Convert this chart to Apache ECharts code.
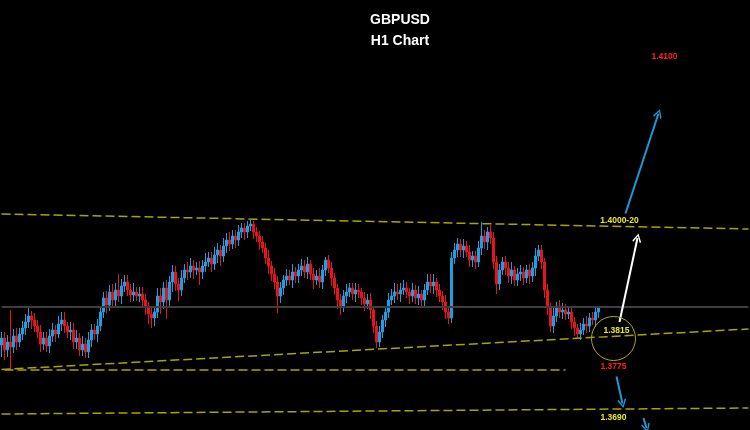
<!DOCTYPE html>
<html>
<head>
<meta charset="utf-8">
<script src="https://cdn.jsdelivr.net/npm/echarts@6/dist/echarts.min.js"></script>
<style>
  html, body { margin: 0; padding: 0; background: #000; }
  #chart { width: 750px; height: 430px; }
</style>
</head>
<body>
<div id="chart"></div>
<script>
// ---- H1 candles (GBPUSD) ----
const opens = [
  1.3770,1.3784,1.3760,1.3776,1.3766,1.3788,1.3776,1.3792,1.3804,1.3816,1.3828,1.3820,1.3808,1.3796,1.3772,1.3784,1.3768,1.3788,1.3800,1.3792,
  1.3812,1.3820,1.3808,1.3796,1.3800,1.3776,1.3784,1.3760,1.3772,1.3756,1.3780,1.3800,1.3792,1.3808,1.3836,1.3864,1.3850,1.3876,1.3860,1.3880,
  1.3868,1.3888,1.3896,1.3880,1.3870,1.3876,1.3868,1.3872,1.3860,1.3848,1.3832,1.3824,1.3836,1.3868,1.3856,1.3884,1.3860,1.3896,1.3916,1.3892,
  1.3880,1.3904,1.3920,1.3916,1.3928,1.3920,1.3924,1.3916,1.3928,1.3936,1.3944,1.3932,1.3950,1.3960,1.3948,1.3968,1.3980,1.3972,1.3988,1.3980,
  1.3996,1.4004,1.3996,1.4008,1.4012,1.3996,1.3988,1.3976,1.3964,1.3944,1.3928,1.3912,1.3896,1.3868,1.3884,1.3900,1.3908,1.3900,1.3916,1.3908,
  1.3920,1.3928,1.3916,1.3932,1.3912,1.3900,1.3908,1.3896,1.3920,1.3940,1.3924,1.3904,1.3884,1.3860,1.3848,1.3868,1.3876,1.3884,1.3872,1.3880,
  1.3876,1.3864,1.3852,1.3860,1.3840,1.3808,1.3776,1.3796,1.3820,1.3836,1.3860,1.3868,1.3876,1.3872,1.3880,1.3884,1.3876,1.3868,1.3880,1.3864,
  1.3872,1.3860,1.3880,1.3896,1.3888,1.3896,1.3880,1.3868,1.3856,1.3836,1.3824,1.3944,1.3960,1.3972,1.3960,1.3968,1.3956,1.3940,1.3948,1.3936,
  1.3964,1.3988,1.3976,1.3996,1.3984,1.3936,1.3892,1.3920,1.3936,1.3924,1.3908,1.3920,1.3900,1.3912,1.3916,1.3904,1.3920,1.3908,1.3924,1.3948,
  1.3960,1.3936,1.3880,1.3844,1.3808,1.3828,1.3848,1.3836,1.3840,1.3832,1.3836,1.3816,1.3804,1.3792,1.3800,1.3812,1.3808,1.3824,1.3820,1.3836
];
const closes = [
  1.3784,1.3760,1.3776,1.3766,1.3788,1.3776,1.3792,1.3804,1.3816,1.3828,1.3820,1.3808,1.3796,1.3772,1.3784,1.3768,1.3788,1.3800,1.3792,1.3812,
  1.3820,1.3808,1.3796,1.3800,1.3776,1.3784,1.3760,1.3772,1.3756,1.3780,1.3800,1.3792,1.3808,1.3836,1.3864,1.3850,1.3876,1.3860,1.3880,1.3868,
  1.3888,1.3896,1.3880,1.3870,1.3876,1.3868,1.3872,1.3860,1.3848,1.3832,1.3824,1.3836,1.3868,1.3856,1.3884,1.3860,1.3896,1.3916,1.3892,1.3880,
  1.3904,1.3920,1.3916,1.3928,1.3920,1.3924,1.3916,1.3928,1.3936,1.3944,1.3932,1.3950,1.3960,1.3948,1.3968,1.3980,1.3972,1.3988,1.3980,1.3996,
  1.4004,1.3996,1.4008,1.4012,1.3996,1.3988,1.3976,1.3964,1.3944,1.3928,1.3912,1.3896,1.3868,1.3884,1.3900,1.3908,1.3900,1.3916,1.3908,1.3920,
  1.3928,1.3916,1.3932,1.3912,1.3900,1.3908,1.3896,1.3920,1.3940,1.3924,1.3904,1.3884,1.3860,1.3848,1.3868,1.3876,1.3884,1.3872,1.3880,1.3876,
  1.3864,1.3852,1.3860,1.3840,1.3808,1.3776,1.3796,1.3820,1.3836,1.3860,1.3868,1.3876,1.3872,1.3880,1.3884,1.3876,1.3868,1.3880,1.3864,1.3872,
  1.3860,1.3880,1.3896,1.3888,1.3896,1.3880,1.3868,1.3856,1.3836,1.3824,1.3944,1.3960,1.3972,1.3960,1.3968,1.3956,1.3940,1.3948,1.3936,1.3964,
  1.3988,1.3976,1.3996,1.3984,1.3936,1.3892,1.3920,1.3936,1.3924,1.3908,1.3920,1.3900,1.3912,1.3916,1.3904,1.3920,1.3908,1.3924,1.3948,1.3960,
  1.3936,1.3880,1.3844,1.3808,1.3828,1.3848,1.3836,1.3840,1.3832,1.3836,1.3816,1.3804,1.3792,1.3800,1.3812,1.3808,1.3824,1.3820,1.3836,1.3844
];
const lows = [
  1.3746,1.3740,1.3746,1.3720,1.3754,1.3760,1.3766,1.3780,1.3790,1.3804,1.3802,1.3796,1.3784,1.3756,1.3760,1.3756,1.3754,1.3776,1.3776,1.3784,
  1.3798,1.3794,1.3784,1.3780,1.3762,1.3762,1.3748,1.3748,1.3744,1.3744,1.3766,1.3780,1.3776,1.3798,1.3824,1.3834,1.3838,1.3848,1.3846,1.3856,
  1.3852,1.3876,1.3868,1.3856,1.3858,1.3858,1.3856,1.3848,1.3830,1.3812,1.3804,1.3808,1.3824,1.3832,1.3842,1.3822,1.3844,1.3876,1.3878,1.3858,
  1.3868,1.3894,1.3900,1.3904,1.3902,1.3910,1.3890,1.3902,1.3916,1.3926,1.3916,1.3920,1.3934,1.3928,1.3936,1.3954,1.3958,1.3962,1.3964,1.3968,
  1.3984,1.3980,1.3984,1.3998,1.3982,1.3976,1.3960,1.3954,1.3932,1.3912,1.3898,1.3882,1.3834,1.3854,1.3870,1.3888,1.3890,1.3884,1.3894,1.3894,
  1.3908,1.3904,1.3902,1.3900,1.3882,1.3890,1.3884,1.3882,1.3908,1.3914,1.3888,1.3870,1.3842,1.3830,1.3836,1.3854,1.3866,1.3860,1.3856,1.3864,
  1.3850,1.3838,1.3842,1.3822,1.3794,1.3764,1.3766,1.3784,1.3806,1.3824,1.3850,1.3854,1.3860,1.3856,1.3870,1.3864,1.3852,1.3856,1.3852,1.3850,
  1.3846,1.3844,1.3870,1.3874,1.3872,1.3866,1.3856,1.3840,1.3822,1.3812,1.3814,1.3932,1.3946,1.3946,1.3944,1.3946,1.3926,1.3926,1.3922,1.3926,
  1.3950,1.3962,1.3960,1.3972,1.3922,1.3872,1.3880,1.3910,1.3910,1.3894,1.3892,1.3888,1.3888,1.3898,1.3890,1.3894,1.3892,1.3896,1.3908,1.3938,
  1.3922,1.3864,1.3830,1.3796,1.3794,1.3816,1.3824,1.3822,1.3820,1.3822,1.3802,1.3788,1.3784,1.3780,1.3790,1.3794,1.3796,1.3810,1.3806,1.3824
];
const highs = [
  1.3796,1.3796,1.3790,1.3840,1.3802,1.3804,1.3804,1.3818,1.3832,1.3844,1.3838,1.3834,1.3820,1.3810,1.3796,1.3796,1.3802,1.3814,1.3810,1.3828,
  1.3836,1.3836,1.3816,1.3816,1.3814,1.3800,1.3794,1.3788,1.3784,1.3796,1.3812,1.3812,1.3822,1.3848,1.3876,1.3878,1.3890,1.3892,1.3894,1.3912,
  1.3902,1.3910,1.3910,1.3892,1.3894,1.3886,1.3886,1.3886,1.3872,1.3856,1.3846,1.3848,1.3884,1.3884,1.3896,1.3900,1.3908,1.3930,1.3928,1.3904,
  1.3920,1.3932,1.3936,1.3944,1.3940,1.3936,1.3938,1.3940,1.3954,1.3956,1.3956,1.3966,1.3974,1.3970,1.3984,1.3994,1.3996,1.4000,1.4000,1.4010,
  1.4014,1.4014,1.4018,1.4020,1.4018,1.4006,1.3998,1.3988,1.3974,1.3960,1.3938,1.3924,1.3908,1.3896,1.3910,1.3922,1.3920,1.3932,1.3926,1.3932,
  1.3942,1.3940,1.3946,1.3940,1.3924,1.3920,1.3924,1.3930,1.3946,1.3950,1.3936,1.3914,1.3892,1.3872,1.3880,1.3892,1.3894,1.3894,1.3894,1.3892,
  1.3884,1.3876,1.3872,1.3874,1.3848,1.3818,1.3808,1.3830,1.3846,1.3874,1.3882,1.3894,1.3892,1.3894,1.3900,1.3896,1.3884,1.3894,1.3890,1.3888,
  1.3880,1.3892,1.3912,1.3912,1.3912,1.3904,1.3892,1.3878,1.3870,1.3844,1.3956,1.3974,1.3984,1.3982,1.3982,1.3978,1.3970,1.3958,1.3958,1.3978,
  1.4016,1.4000,1.4006,1.4010,1.3996,1.3948,1.3932,1.3946,1.3948,1.3936,1.3936,1.3928,1.3924,1.3930,1.3926,1.3930,1.3932,1.3936,1.3964,1.3970,
  1.3970,1.3944,1.3892,1.3854,1.3844,1.3856,1.3860,1.3854,1.3852,1.3846,1.3848,1.3826,1.3812,1.3814,1.3824,1.3828,1.3834,1.3836,1.3846,1.3848
];
// hourly slots: 200 traded bars plus empty room on the right
const slotCount = 250;
const slots = Array.from({ length: slotCount }, (_, i) => 'H' + (i + 1));

// ---- annotation levels (labels as written on the chart) ----
const levelNames = ['1.4100', '1.4000-20', '1.3815', '1.3775', '1.3690'];
const levelSlots = [221, 206, 205, 204, 204];
const levelPrices = [1.4346, 1.4019, 1.3798, 1.3726, 1.3625];
const levelColors = ['#ff2323', '#eaea22', '#eaea22', '#ff2323', '#eaea22'];

// trend / support lines [fromSlot, fromPrice, toSlot, toPrice]
const dashedLines = [
  [0, 1.4032, 249, 1.4002],
  [0, 1.3721, 249, 1.3802],
  [1, 1.3720, 188, 1.3720],
  [0, 1.3632, 249, 1.3644]
];
const pivotLine = [0, 1.3846, 249, 1.3846];
// arrows [fromSlot, fromPrice, toSlot, toPrice, color]
const arrows = [
  [208, 1.4033, 219, 1.4233, '#1b9ad8'],
  [206, 1.3816, 212, 1.3984, '#ffffff'],
  [205, 1.3707, 207, 1.3653, '#1b9ad8'],
  [214, 1.3624, 215, 1.3604, '#1b9ad8']
];
const circleAt = [204, 1.3783];

const UP = '#1d9fe4', DOWN = '#e8141c', GUIDE = '#aaa400';
const chevron = 'path://M5,0 L10,9 L8.6,10 L5,2.8 L1.4,10 L0,9 Z';

const candles = opens.map((o, i) => [o, closes[i], lows[i], highs[i]]);

const lineData = [];
lineData.push([
  { coord: [pivotLine[0], pivotLine[1]], symbol: 'none', lineStyle: { color: '#3e3e3e', width: 2, type: 'solid' } },
  { coord: [pivotLine[2], pivotLine[3]], symbol: 'none' }
]);
dashedLines.forEach(l => lineData.push([
  { coord: [l[0], l[1]], symbol: 'none', lineStyle: { color: GUIDE, width: 1.5, type: [9, 4] } },
  { coord: [l[2], l[3]], symbol: 'none' }
]));
arrows.forEach(a => lineData.push([
  { coord: [a[0], a[1]], symbol: 'none', lineStyle: { color: a[4], width: 2, type: 'solid' } },
  { coord: [a[2], a[3]], symbol: chevron, symbolSize: [9, 9], itemStyle: { color: a[4] } }
]));

const pointData = levelNames.map((n, i) => ({
  name: n,
  coord: [levelSlots[i], levelPrices[i]],
  symbol: 'circle',
  symbolSize: 1,
  itemStyle: { color: 'rgba(0,0,0,0)' },
  label: { show: true, position: 'inside', formatter: '{b}', color: levelColors[i],
           fontSize: 8.5, fontWeight: 'bold', fontFamily: 'Liberation Sans, Arial, sans-serif' }
}));
pointData.push({
  name: 'ring',
  coord: circleAt,
  symbol: 'circle',
  symbolSize: 44,
  itemStyle: { color: 'rgba(0,0,0,0)', borderColor: '#b2aa00', borderWidth: 1 },
  label: { show: false }
});

const chart = echarts.init(document.getElementById('chart'), null, { renderer: 'canvas' });
chart.setOption({
  backgroundColor: '#000000',
  animation: false,
  grid: { left: 0, right: 0, top: 0, bottom: 0, containLabel: false },
  xAxis: { type: 'category', data: slots, show: false, boundaryGap: true },
  yAxis: { type: 'value', min: 1.3600, max: 1.4460, show: false, splitLine: { show: false } },
  graphic: [
    { type: 'text', x: 400, y: 20.5, style: { text: 'GBPUSD', fill: '#ffffff', font: 'bold 14px "Liberation Sans", Arial, sans-serif', textAlign: 'center', textVerticalAlign: 'middle' } },
    { type: 'text', x: 400, y: 41.5, style: { text: 'H1 Chart', fill: '#ffffff', font: 'bold 14px "Liberation Sans", Arial, sans-serif', textAlign: 'center', textVerticalAlign: 'middle' } }
  ],
  series: [{
    type: 'candlestick',
    data: candles,
    barWidth: 1.6,
    itemStyle: { color: UP, color0: DOWN, borderColor: UP, borderColor0: DOWN, borderWidth: 1 },
    markLine: { silent: true, animation: false, symbol: 'none', label: { show: false }, emphasis: { disabled: true }, data: lineData },
    markPoint: { silent: true, animation: false, emphasis: { disabled: true }, data: pointData }
  }]
});
</script>
</body>
</html>
